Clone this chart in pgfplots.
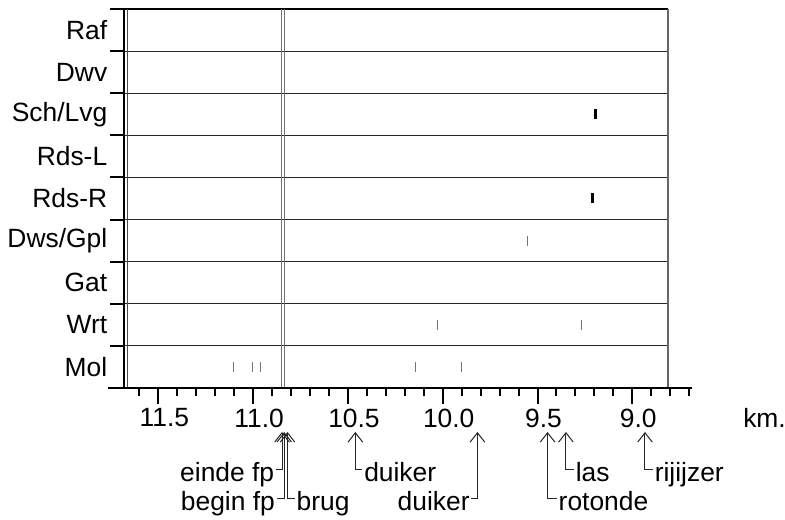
\documentclass[border=0pt]{standalone}
\usepackage{pgfplots}
\pgfplotsset{compat=1.18}
\usepackage{fontspec}
\setmainfont{Liberation Sans}
\usetikzlibrary{arrows.meta}
\newcommand{\lbl}{\fontsize{19.8}{23}\selectfont}
\tikzset{ann/.style={black!85, line width=0.75pt}}
\newcommand{\annR}[4]{% km, drop, stub, text
  \draw[ann, {Straight Barb[length=7pt,width=11pt]}-] ([yshift=-33pt]axis cs:#1,0) -- ([yshift=-#2]axis cs:#1,0) -- ([xshift=#3,yshift=-#2]axis cs:#1,0) node[anchor=base west, inner sep=1pt, yshift=-9pt, font=\lbl, text=black] {#4};}
\newcommand{\annL}[4]{%
  \draw[ann, {Straight Barb[length=7pt,width=11pt]}-] ([yshift=-33pt]axis cs:#1,0) -- ([yshift=-#2]axis cs:#1,0) -- ([xshift=-#3,yshift=-#2]axis cs:#1,0) node[anchor=base east, inner sep=1pt, yshift=-9pt, font=\lbl, text=black] {#4};}
\begin{document}
\begin{tikzpicture}[font=\lbl]
\path[use as bounding box] (0,0) rectangle (588.75pt,390pt);
% ---------------- frame axis with the rows ----------------
\begin{axis}[
  at={(94.125pt,99pt)}, anchor=south west,
  scale only axis, width=406.875pt, height=284.25pt,
  x dir=reverse, xmin=8.812, xmax=11.673,
  ymin=0, ymax=9,
  axis line style={draw=none},
  xtick=\empty,
  ytick={0.5,1.5,2.5,3.5,4.5,5.5,6.5,7.5,8.5},
  yticklabels={Mol,Wrt,Gat,Dws/Gpl,Rds-R,Rds-L,Sch/Lvg,Dwv,Raf},
  minor ytick={0,1,2,3,4,5,6,7,8,9},
  ytick pos=left,
  major tick length=0pt,
  minor tick length=11.25pt,
  tick align=outside,
  major tick style={draw=none},
  minor tick style={black, line width=1.5pt},
  yminorgrids,
  minor grid style={black!85, line width=0.8pt, solid},
  yticklabel style={font=\lbl, inner sep=0pt, xshift=-13.5pt},
  clip=false,
]
% frame
\draw[black, line width=1.1pt] (axis cs:11.673,9) -- (axis cs:8.812,9);
\draw[black!60, line width=1.1pt] (axis cs:8.812,0) -- (axis cs:8.812,9);
\draw[black, line width=1.6pt] ([xshift=-0.9pt]axis cs:11.673,0) -- ([xshift=-0.9pt]axis cs:11.673,9);
\draw[black!70, line width=0.6pt] ([xshift=1.2pt]axis cs:11.673,0) -- ([xshift=1.2pt]axis cs:11.673,9);
% double vertical line (fietspad)
\draw[black!55, line width=0.75pt] (axis cs:10.848,0) -- (axis cs:10.848,9);
\draw[black!55, line width=0.75pt] (axis cs:10.832,0) -- (axis cs:10.832,9);
% thin grey marks
\addplot[only marks, mark=|, mark size=3.75pt, mark options={draw=black!55, line width=0.8pt}]
  coordinates {(9.554,3.5) (10.026,1.5) (9.266,1.5) (11.102,0.5) (11.003,0.5) (10.961,0.5) (10.146,0.5) (9.903,0.5)};
% thick black marks
\addplot[only marks, mark=|, mark size=3.75pt, mark options={draw=black, line width=2.4pt}]
  coordinates {(9.193,6.5) (9.211,4.5)};
\end{axis}
% ---------------- km axis ----------------
\begin{axis}[
  at={(81pt,99pt)}, anchor=south west,
  scale only axis, width=438pt, height=284.25pt,
  x dir=reverse, xmin=8.685, xmax=11.766, ymin=0, ymax=1,
  axis x line*=bottom, axis y line=none,
  x axis line style={-, black, line width=1.5pt},
  xtick={9,9.5,10,10.5,11,11.5},
  minor xtick={8.7,8.8,8.9,9.0,9.1,9.2,9.3,9.4,9.5,9.6,9.7,9.8,9.9,10.0,10.1,10.2,10.3,10.4,10.5,10.6,10.7,10.8,10.9,11.0,11.1,11.2,11.3,11.4,11.5,11.6},
  major tick length=12pt, minor tick length=6pt,
  tick align=outside,
  major tick style={black, line width=1.5pt},
  minor tick style={black, line width=1.5pt},
  xticklabel style={font=\lbl, xshift=4.5pt},
  clip=false,
  /pgf/number format/.cd, fixed, fixed zerofill, precision=1, assume math mode=true,
]
\addplot[draw=none, forget plot] coordinates {(10,0.5)};
\annL{10.848}{61.5pt}{4.5pt}{einde fp}
\annL{10.836}{83.25pt}{5.7pt}{begin fp}
\annR{10.819}{83.25pt}{5.5pt}{brug}
\annR{10.461}{61.5pt}{5.3pt}{duiker}
\annL{9.817}{83.25pt}{4.5pt}{duiker}
\annR{9.447}{83.25pt}{7pt}{rotonde}
\annR{9.350}{61.5pt}{6pt}{las}
\annR{8.933}{61.5pt}{6pt}{rijijzer}
\end{axis}
\node[anchor=west, inner sep=0pt] at (557.25pt,76.5pt) {km.};
\end{tikzpicture}
\end{document}
